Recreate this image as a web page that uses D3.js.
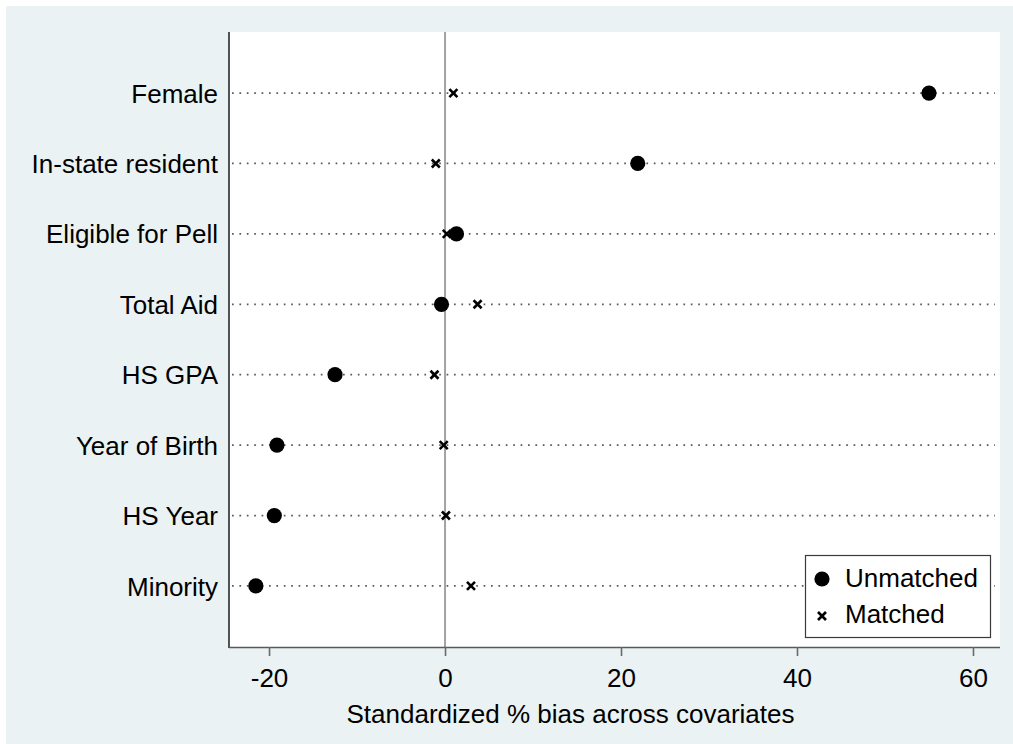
<!DOCTYPE html>
<html>
<head>
<meta charset="utf-8">
<script src="https://cdn.jsdelivr.net/npm/d3@7"></script>
<style>
  html, body { margin: 0; padding: 0; background: #ffffff; }
  svg { display: block; }
  text { font-family: "Liberation Sans", Arial, sans-serif; fill: #000; }
</style>
</head>
<body>
<svg id="chart" width="1013" height="744"></svg>
<script>
const categories = ["Female", "In-state resident", "Eligible for Pell", "Total Aid", "HS GPA", "Year of Birth", "HS Year", "Minority"];
const unmatched = [55.0, 21.9, 1.3, -0.4, -12.5, -19.1, -19.4, -21.5];
const matched = [0.95, -1.05, 0.2, 3.7, -1.2, -0.15, 0.1, 2.95];
const xTicks = [-20, 0, 20, 40, 60];
const seriesNames = ["Unmatched", "Matched"];
const xTitle = "Standardized % bias across covariates";

const svg = d3.select("#chart");
const W = 1013, H = 744;
const plot = { left: 229, right: 1000, top: 32, bottom: 647 };

// outer background
svg.append("rect").attr("x", 6).attr("y", 6).attr("width", W - 6).attr("height", H - 6).attr("fill", "#EAF2F3");
// plot region
svg.append("rect").attr("x", plot.left).attr("y", plot.top)
  .attr("width", plot.right - plot.left).attr("height", plot.bottom - plot.top).attr("fill", "#ffffff");

const x = d3.scaleLinear().domain([-24.55, 63.07]).range([plot.left, plot.right]);
const y = d3.scalePoint().domain(categories).range([plot.top, plot.bottom]).padding(0.867);

// dotted guide lines
svg.append("g").selectAll("line").data(categories).join("line")
  .attr("x1", plot.left + 3).attr("x2", plot.right - 5)
  .attr("y1", d => y(d)).attr("y2", d => y(d))
  .attr("stroke", "#5a5a5a").attr("stroke-width", 1.7)
  .attr("stroke-dasharray", "1.7,5.7");

// zero reference line
svg.append("line").attr("x1", x(0)).attr("x2", x(0)).attr("y1", plot.top).attr("y2", plot.bottom)
  .attr("stroke", "#a3a3a3").attr("stroke-width", 2);

// axes lines
svg.append("line").attr("x1", plot.left).attr("x2", plot.left).attr("y1", plot.top).attr("y2", plot.bottom + 1)
  .attr("stroke", "#2a2a2a").attr("stroke-width", 1.6);

const xAxis = d3.axisBottom(x).tickValues(xTicks).tickSize(9).tickPadding(13).tickSizeOuter(0)
  .tickFormat(d => String(d));
const gx = svg.append("g").attr("transform", `translate(0,${plot.bottom})`).call(xAxis);
gx.select(".domain").attr("d", `M${plot.left},0.5H${plot.right}`).attr("stroke", "#5a5a5a").attr("stroke-width", 1.6);
gx.selectAll(".tick line").attr("stroke", "#6a6a6a").attr("stroke-width", 1.6);
gx.selectAll(".tick text").attr("font-size", 26).attr("font-family", "Liberation Sans, Arial, sans-serif").attr("fill", "#000");

// y labels
svg.append("g").selectAll("text").data(categories).join("text")
  .attr("x", 218).attr("y", d => y(d)).attr("dy", "0.37em")
  .attr("text-anchor", "end").attr("font-size", 26).text(d => d);

// x title
svg.append("text").attr("x", 570.5).attr("y", 723).attr("text-anchor", "middle")
  .attr("font-size", 26).text(xTitle);

// unmatched markers
svg.append("g").selectAll("circle").data(categories).join("circle")
  .attr("cx", (d, i) => x(unmatched[i])).attr("cy", d => y(d)).attr("r", 7.6).attr("fill", "#000");

// matched markers (x)
svg.append("g").selectAll("path").data(categories).join("path")
  .attr("transform", (d, i) => `translate(${x(matched[i])},${y(d)})`)
  .attr("d", "M-4,-4L4,4M-4,4L4,-4")
  .attr("stroke", "#000").attr("stroke-width", 2.6).attr("fill", "none");

// legend
const lg = svg.append("g");
lg.append("rect").attr("x", 805.5).attr("y", 555.5).attr("width", 185).attr("height", 82)
  .attr("fill", "#fff").attr("stroke", "#3a3a3a").attr("stroke-width", 1.2);
lg.append("circle").attr("cx", 822).attr("cy", 579).attr("r", 7.6).attr("fill", "#000");
lg.append("path").attr("transform", "translate(822,616)").attr("d", "M-4,-4L4,4M-4,4L4,-4")
  .attr("stroke", "#000").attr("stroke-width", 2.6);
lg.append("text").attr("x", 845).attr("y", 587).attr("font-size", 26).text(seriesNames[0]);
lg.append("text").attr("x", 845).attr("y", 623).attr("font-size", 26).text(seriesNames[1]);
</script>
</body>
</html>
